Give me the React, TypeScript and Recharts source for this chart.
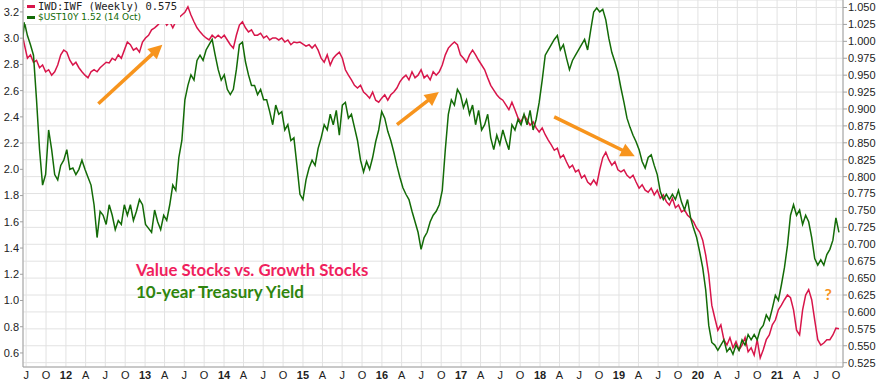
import React from "react";
import { LineChart, Line, XAxis, YAxis, CartesianGrid, ReferenceLine, ReferenceDot } from "recharts";

// Series sampled every 2 weeks, ending 14 Oct 2021
const LAST_DATE = Date.UTC(2021, 9, 14);
const STEP_DAYS = 14;

const ust10y = [
  2.89, 3.12, 3.02, 2.95, 2.87, 2.53, 2.15, 1.88, 1.96, 2.30,
  2.15, 1.96, 1.92, 2.03, 2.07, 2.15, 2.00, 2.01, 1.96, 2.00,
  2.07, 2.00, 1.94, 1.88, 1.73, 1.48, 1.68, 1.65, 1.58, 1.73,
  1.65, 1.54, 1.61, 1.58, 1.73, 1.65, 1.73, 1.61, 1.68, 1.77,
  1.73, 1.58, 1.55, 1.52, 1.69, 1.60, 1.54, 1.65, 1.61, 1.73,
  1.88, 1.84, 2.09, 2.22, 2.53, 2.64, 2.72, 2.68, 2.83, 2.87,
  2.83, 2.91, 2.95, 2.99, 2.87, 2.76, 2.68, 2.72, 2.61, 2.57,
  2.61, 2.76, 2.95, 2.97, 2.82, 2.72, 2.64, 2.64, 2.57, 2.61,
  2.53, 2.53, 2.44, 2.34, 2.49, 2.42, 2.44, 2.30, 2.34, 2.22,
  2.24, 2.03, 1.81, 1.77, 1.92, 2.01, 2.07, 2.03, 2.16, 2.24,
  2.34, 2.30, 2.42, 2.34, 2.45, 2.26, 2.49, 2.51, 2.39, 2.42,
  2.32, 2.22, 2.07, 1.98, 2.06, 2.00, 2.09, 2.21, 2.30, 2.44,
  2.39, 2.29, 2.22, 2.13, 2.03, 1.94, 1.86, 1.81, 1.77, 1.68,
  1.60, 1.52, 1.39, 1.48, 1.52, 1.60, 1.65, 1.68, 1.73, 1.84,
  2.15, 2.42, 2.53, 2.49, 2.61, 2.57, 2.47, 2.53, 2.42, 2.49,
  2.34, 2.45, 2.30, 2.34, 2.42, 2.24, 2.15, 2.26, 2.19, 2.30,
  2.22, 2.15, 2.34, 2.30, 2.38, 2.34, 2.42, 2.34, 2.45, 2.30,
  2.38, 2.51, 2.68, 2.87, 2.91, 2.95, 2.99, 3.02, 2.91, 2.95,
  2.85, 2.76, 2.83, 2.87, 2.91, 2.95, 2.99, 2.91, 3.06, 3.20,
  3.23, 3.20, 3.22, 3.14, 3.00, 2.89, 2.82, 2.74, 2.62, 2.51,
  2.39, 2.32, 2.26, 2.21, 2.15, 2.06, 2.01, 2.09, 2.11, 2.03,
  1.96, 1.83, 1.77, 1.81, 1.77, 1.81, 1.77, 1.84, 1.75, 1.69,
  1.77, 1.63, 1.55, 1.48, 1.37, 1.25, 1.08, 0.81, 0.68, 0.66,
  0.62, 0.66, 0.70, 0.61, 0.64, 0.59, 0.66, 0.62, 0.70, 0.66,
  0.74, 0.70, 0.74, 0.70, 0.78, 0.81, 0.89, 0.85, 0.94, 1.04,
  1.00, 1.12, 1.25, 1.42, 1.65, 1.73, 1.65, 1.69, 1.58, 1.65,
  1.60, 1.48, 1.32, 1.27, 1.31, 1.27, 1.35, 1.39, 1.46, 1.63,
  1.52,
];

const iwdIwf = [
  1.017, 0.995, 0.975, 0.980, 0.969, 0.972, 0.961, 0.965, 0.955, 0.958,
  0.950, 0.955, 0.965, 0.980, 0.987, 0.984, 0.972, 0.965, 0.969, 0.961,
  0.955, 0.950, 0.946, 0.955, 0.958, 0.955, 0.961, 0.965, 0.969, 0.968,
  0.975, 0.972, 0.980, 0.975, 0.987, 0.999, 0.995, 0.987, 0.990, 0.984,
  0.999, 1.005, 1.009, 1.017, 1.020, 1.024, 1.029, 1.032, 1.024, 1.029,
  1.020, 1.029, 1.035, 1.039, 1.043, 1.051, 1.039, 1.029, 1.020, 1.014,
  1.009, 1.005, 1.002, 1.009, 1.005, 1.009, 1.005, 1.009, 1.002, 0.995,
  0.990, 1.009, 1.024, 1.029, 1.020, 1.014, 1.017, 1.009, 1.009, 1.012,
  1.005, 1.008, 1.002, 1.005, 1.005, 1.002, 1.005, 0.999, 1.002, 0.995,
  0.999, 0.998, 0.999, 0.996, 0.993, 0.995, 0.990, 0.995, 0.987, 0.975,
  0.969, 0.980, 0.965, 0.975, 0.980, 0.984, 0.975, 0.958, 0.950, 0.943,
  0.935, 0.931, 0.935, 0.925, 0.921, 0.916, 0.925, 0.913, 0.910, 0.916,
  0.921, 0.913, 0.921, 0.925, 0.931, 0.940, 0.946, 0.950, 0.943, 0.955,
  0.946, 0.950, 0.958, 0.946, 0.950, 0.943, 0.955, 0.950, 0.955, 0.965,
  0.980, 0.990, 0.995, 0.999, 0.995, 0.980, 0.975, 0.969, 0.980, 0.987,
  0.980, 0.972, 0.965, 0.958, 0.946, 0.935, 0.928, 0.921, 0.916, 0.913,
  0.906, 0.899, 0.910, 0.899, 0.887, 0.881, 0.891, 0.884, 0.876, 0.881,
  0.872, 0.866, 0.872, 0.862, 0.854, 0.847, 0.839, 0.842, 0.828, 0.832,
  0.822, 0.813, 0.817, 0.807, 0.810, 0.798, 0.802, 0.792, 0.788, 0.795,
  0.788, 0.810, 0.828, 0.836, 0.825, 0.817, 0.822, 0.810, 0.807, 0.810,
  0.802, 0.798, 0.802, 0.792, 0.783, 0.788, 0.780, 0.777, 0.783, 0.773,
  0.780, 0.768, 0.773, 0.763, 0.758, 0.768, 0.754, 0.758, 0.748, 0.751,
  0.743, 0.739, 0.733, 0.724, 0.718, 0.706, 0.684, 0.655, 0.610, 0.591,
  0.573, 0.581, 0.559, 0.551, 0.562, 0.547, 0.556, 0.544, 0.551, 0.562,
  0.541, 0.547, 0.536, 0.559, 0.532, 0.544, 0.559, 0.566, 0.581, 0.588,
  0.603, 0.610, 0.618, 0.625, 0.621, 0.603, 0.573, 0.566, 0.603, 0.625,
  0.633, 0.618, 0.588, 0.559, 0.551, 0.554, 0.559, 0.559, 0.566, 0.576,
  0.575,
];

const xTickLabels = [
  "J", "O",
  "12", "A", "J", "O", "13", "A", "J", "O", "14", "A", "J", "O",
  "15", "A", "J", "O", "16", "A", "J", "O", "17", "A", "J", "O",
  "18", "A", "J", "O", "19", "A", "J", "O", "20", "A", "J", "O",
  "21", "A", "J", "O",
];
const leftTicks = [0.6, 0.8, 1.0, 1.2, 1.4, 1.6, 1.8, 2.0, 2.2, 2.4, 2.6, 2.8, 3.0, 3.2];
const rightTicks = [
  0.525, 0.55, 0.575, 0.6, 0.625, 0.65, 0.675, 0.7, 0.725, 0.75, 0.775,
  0.8, 0.825, 0.85, 0.875, 0.9, 0.925, 0.95, 0.975, 1.0, 1.025, 1.05,
];

// annotation arrows: [x1, y1, x2, y2] in (decimal year, yield) units
const arrows = [
  [2012.41, 2.5, 2013.22, 2.95],
  [2016.19, 2.34, 2016.72, 2.59],
  [2018.18, 2.4, 2019.2, 2.1],
];

const DAY = 86400000;
const toYear = (ms: number) => 1970 + ms / (365.2425 * DAY);

const data = ust10y.map((v, i) => ({
  t: toYear(LAST_DATE - (ust10y.length - 1 - i) * STEP_DAYS * DAY),
  ust: v,
  iwd: iwdIwf[i],
}));

const xTicks = xTickLabels.map((_, i) => toYear(Date.UTC(2011, 6 + 3 * i, 1)));

const RED = "#d8154a";
const GREEN = "#136b07";
const ORANGE = "#f7941d";
const AXIS = "#a0a0a0";
const TICK_FONT = "'Liberation Sans', Arial, sans-serif";

const XTick = (props: any) => {
  const { x, y, index } = props;
  const label = xTickLabels[index] ?? "";
  const bold = /\d/.test(label);
  return (
    <text x={x} y={y + 12} textAnchor="middle" fontSize={11} fontFamily={TICK_FONT}
      fontWeight={bold ? "bold" : "normal"} fill="#222">
      {label}
    </text>
  );
};

const Arrow = (props: any) => {
  const { x1, y1, x2, y2 } = props;
  if ([x1, y1, x2, y2].some((v) => typeof v !== "number" || isNaN(v))) return null;
  const dx = x2 - x1, dy = y2 - y1;
  const len = Math.sqrt(dx * dx + dy * dy);
  const ux = dx / len, uy = dy / len;
  const head = 14, half = 7;
  const bx = x2 - ux * head, by = y2 - uy * head;
  const pts = `${x2},${y2} ${bx - uy * half},${by + ux * half} ${bx + uy * half},${by - ux * half}`;
  return (
    <g>
      <line x1={x1} y1={y1} x2={bx + ux * 2} y2={by + uy * 2} stroke={ORANGE} strokeWidth={3.5} />
      <polygon points={pts} fill={ORANGE} />
    </g>
  );
};

const makeText = (text: string, color: string, size: number, anchor: string = "start") => (p: any) => (
  <text x={p.cx} y={p.cy} fill={color} fontSize={size} fontWeight="bold"
    fontFamily="Lato, 'Open Sans', sans-serif" textAnchor={anchor}>
    {text}
  </text>
);

export default function App() {
  return (
    <div style={{ position: "relative", width: 881, height: 384, background: "#fff" }}>
      <style>{"body{margin:0;background:#fff}"}</style>
      <LineChart width={881} height={384} data={data} margin={{ top: 0, right: 0, bottom: 0, left: 0 }}>
        <CartesianGrid yAxisId="right" stroke="#e2e2e2" strokeWidth={1} />
        <XAxis dataKey="t" type="number" domain={[2011.456, 2021.836]} ticks={xTicks} interval={0}
          allowDataOverflow height={17} tickSize={0} tickMargin={0} tick={<XTick />}
          axisLine={{ stroke: AXIS }} />
        <YAxis yAxisId="left" orientation="left" width={23} domain={[0.493, 3.291]} ticks={leftTicks}
          interval={0} allowDataOverflow tickSize={3} tickMargin={1}
          tickFormatter={(v: number) => v.toFixed(1)}
          tick={{ fontSize: 11, fill: "#222", fontFamily: TICK_FONT }}
          axisLine={{ stroke: AXIS }} tickLine={{ stroke: AXIS }} />
        <YAxis yAxisId="right" orientation="right" width={38} domain={[0.5186, 1.0611]} ticks={rightTicks}
          interval={0} allowDataOverflow tickSize={4} tickMargin={1}
          tickFormatter={(v: number) => v.toFixed(3)}
          tick={{ fontSize: 11, fill: "#222", fontFamily: TICK_FONT, textAnchor: "start" }}
          axisLine={{ stroke: AXIS }} tickLine={{ stroke: AXIS }} />
        <Line yAxisId="right" dataKey="iwd" stroke={RED} strokeWidth={1.5} dot={false} isAnimationActive={false} />
        <Line yAxisId="left" dataKey="ust" stroke={GREEN} strokeWidth={1.5} dot={false} isAnimationActive={false} />
        {arrows.map((a, i) => (
          <ReferenceLine key={i} yAxisId="left" ifOverflow="visible"
            segment={[{ x: a[0], y: a[1] }, { x: a[2], y: a[3] }]} shape={(p: any) => <Arrow {...p} />} />
        ))}
        <ReferenceDot yAxisId="left" x={2012.886} y={1.19} r={0} ifOverflow="visible"
          shape={makeText("Value Stocks vs. Growth Stocks", "#f01f5e", 16.8)} />
        <ReferenceDot yAxisId="left" x={2012.886} y={1.02} r={0} ifOverflow="visible"
          shape={makeText("10-year Treasury Yield", "#2f850e", 17)} />
        <ReferenceDot yAxisId="left" x={2021.65} y={1.0} r={0} ifOverflow="visible"
          shape={makeText("?", ORANGE, 16, "middle")} />
      </LineChart>
      <div style={{ position: "absolute", left: 25, top: 0, background: "#fff", padding: "1px 3px 1px 2px",
        lineHeight: "11px" }}>
        <div style={{ display: "flex", alignItems: "center", color: "#222",
          fontFamily: "'DejaVu Sans Mono', monospace", fontSize: 10.5 }}>
          <span style={{ display: "inline-block", width: 8, height: 3, background: RED, marginRight: 3 }} />
          IWD:IWF (Weekly) 0.575
        </div>
        <div style={{ display: "flex", alignItems: "center", color: GREEN,
          fontFamily: "'DejaVu Sans', Verdana, sans-serif", fontSize: 9 }}>
          <span style={{ display: "inline-block", width: 8, height: 3, background: GREEN, marginRight: 3 }} />
          $UST10Y 1.52 (14 Oct)
        </div>
      </div>
    </div>
  );
}
